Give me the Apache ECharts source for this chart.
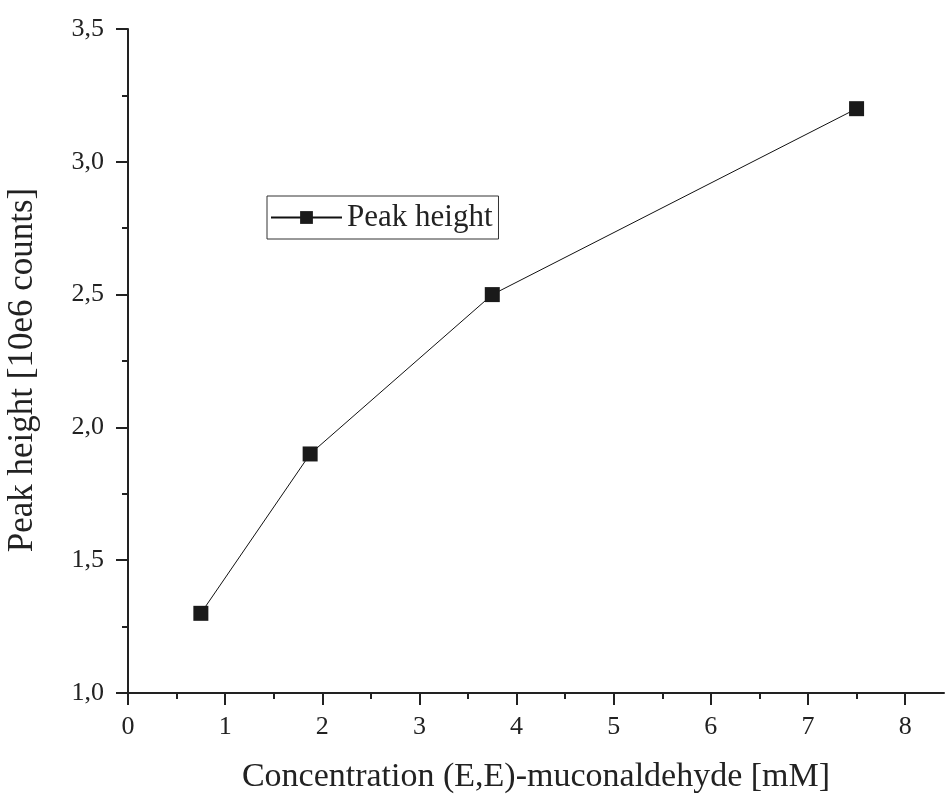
<!DOCTYPE html>
<html><head><meta charset="utf-8">
<script src="https://cdn.jsdelivr.net/npm/echarts@6/dist/echarts.min.js"></script>
<style>html,body{margin:0;padding:0;background:#fff}#c{width:945px;height:796px}</style>
</head><body><div id="c"></div>
<script>
var concentration = [0.75, 1.875, 3.75, 7.5];
var peakHeight = [1.3, 1.9, 2.5, 3.2];
var seriesName = 'Peak height';
var xMajorTicks = [0, 1, 2, 3, 4, 5, 6, 7, 8];
var xMinorTicks = [0.5, 1.5, 2.5, 3.5, 4.5, 5.5, 6.5, 7.5];
var xTitle = 'Concentration (E,E)-muconaldehyde [mM]';
var yTitle = 'Peak height [10e6 counts]';

var font = 'Liberation Serif, Times New Roman, serif';
var chart = echarts.init(document.getElementById('c'));
chart.setOption({
  backgroundColor: '#fff',
  animation: false,
  grid: {left: 128, right: 1, top: 29, bottom: 103, containLabel: false, outerBoundsMode: 'none'},
  legend: {
    left: 267, top: 196,
    data: [seriesName],
    itemWidth: 71, itemHeight: 16,
    padding: [6, 6, 6, 3],
    borderColor: '#333', borderWidth: 1, borderRadius: 0,
    textStyle: {fontFamily: font, fontSize: 31, color: '#222'}
  },
  xAxis: [{
    type: 'value', min: 0, max: 8.4, interval: 1,
    name: xTitle, nameLocation: 'middle', nameGap: 67,
    nameTextStyle: {fontFamily: font, fontSize: 34, color: '#222'},
    axisLine: {show: true, onZero: false, lineStyle: {color: '#222', width: 2}},
    axisTick: {show: true, inside: false, length: 12, lineStyle: {color: '#222', width: 2}, customValues: xMajorTicks},
    axisLabel: {fontFamily: font, fontSize: 26, color: '#222', margin: 21, customValues: xMajorTicks},
    splitLine: {show: false}
  }, {
    type: 'value', min: 0, max: 8.4, position: 'bottom',
    axisLine: {show: false},
    axisTick: {show: true, inside: false, length: 6, lineStyle: {color: '#222', width: 2}, customValues: xMinorTicks},
    axisLabel: {show: false},
    splitLine: {show: false}
  }],
  yAxis: {
    type: 'value', min: 1, max: 3.5, interval: 0.5,
    name: yTitle, nameLocation: 'middle', nameGap: 88, nameRotate: 90,
    nameTextStyle: {fontFamily: font, fontSize: 35, color: '#222', padding: [0, 18, 0, 0]},
    axisLine: {show: true, onZero: false, lineStyle: {color: '#222', width: 2}},
    axisTick: {show: true, inside: false, length: 12, lineStyle: {color: '#222', width: 2}},
    minorTick: {show: true, splitNumber: 2, length: 6, lineStyle: {color: '#222', width: 2}},
    axisLabel: {fontFamily: font, fontSize: 26, color: '#222', margin: 24,
      formatter: function (v) { return v.toFixed(1).replace('.', ','); }},
    splitLine: {show: false}
  },
  series: [{
    name: seriesName, type: 'line',
    data: concentration.map(function (x, i) { return [x, peakHeight[i]]; }),
    symbol: 'rect', symbolSize: 15,
    lineStyle: {color: '#111', width: 1},
    itemStyle: {color: '#1a1a1a'}
  }]
});
</script></body></html>
